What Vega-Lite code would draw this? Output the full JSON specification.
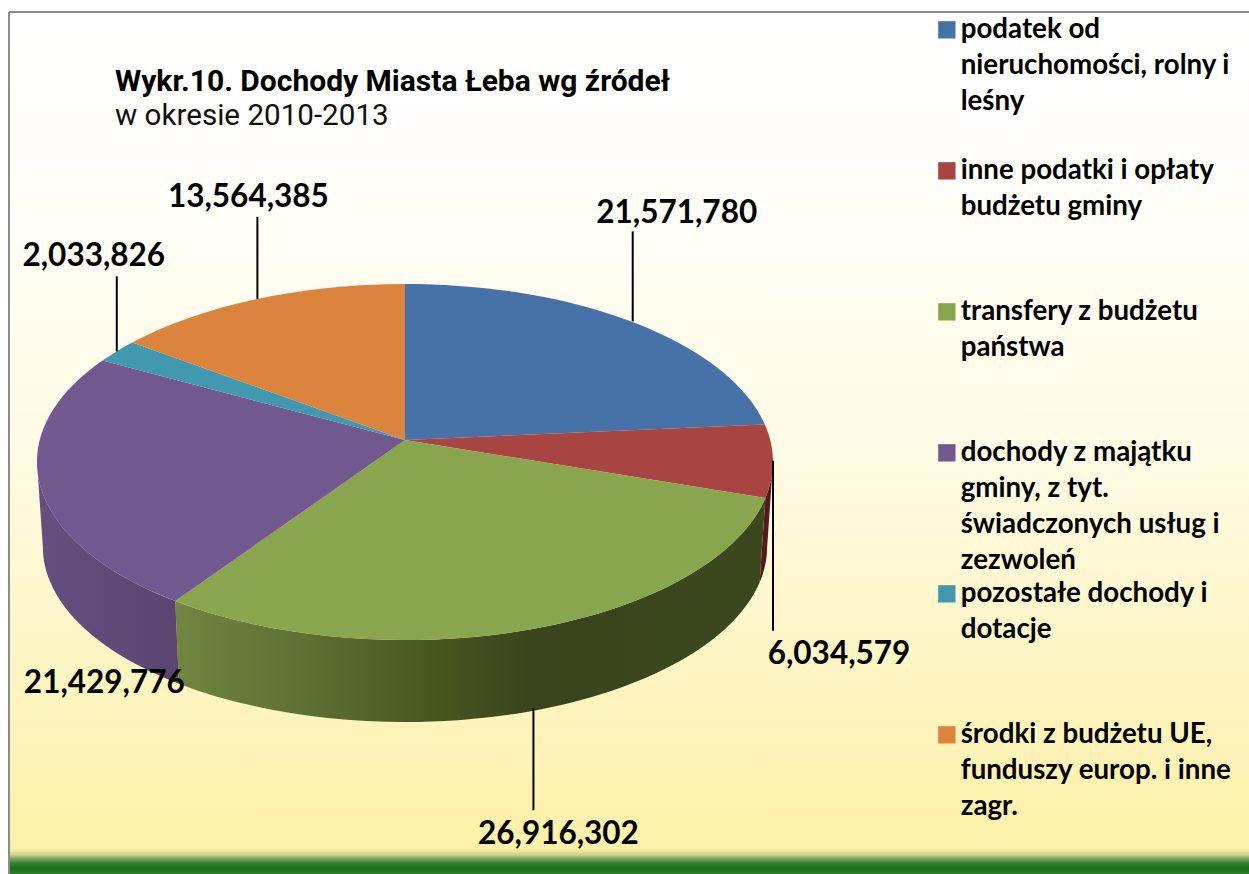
{
"$schema":"https://vega.github.io/schema/vega-lite/v6.json",
"width":1240,"height":862,
"autosize":"none",
"padding":{"left":9,"top":12,"right":0,"bottom":0},
"background":"#ffffff",
"title":{"text":"Wykr.10. Dochody Miasta Łeba wg źródeł","subtitle":"w okresie 2010-2013","anchor":"start","frame":"group","dx":106,"offset":-120,"font":"Roboto","fontSize":30,"fontWeight":"bold","color":"#000000","subtitleFont":"Roboto","subtitleFontSize":29.6,"subtitleColor":"#111111","subtitlePadding":5},
"config":{"view":{"stroke":null},"font":"Lato"},
"data":{"values":[
{"order":1,"source":"podatek od nieruchomości, rolny i leśny","value":21571780},
{"order":2,"source":"inne podatki i opłaty budżetu gminy","value":6034579},
{"order":3,"source":"transfery z budżetu państwa","value":26916302},
{"order":4,"source":"dochody z majątku gminy, z tyt. świadczonych usług i zezwoleń","value":21429776},
{"order":5,"source":"pozostałe dochody i dotacje","value":2033826},
{"order":6,"source":"środki z budżetu UE, funduszy europ. i inne zagr.","value":13564385}
]},
"transform":[
{"stack":"value","groupby":[],"sort":[{"field":"order","order":"ascending"}],"offset":"normalize","as":["f0","f1"]},
{"calculate":"2*PI*datum.f0","as":"t0"},
{"calculate":"2*PI*datum.f1","as":"t1"},
{"calculate":"(datum.t0+datum.t1)/2","as":"tm"},
{"calculate":"365.2*sin(datum.t0)/(1+0.1236*cos(datum.t0))","as":"x0"},
{"calculate":"-175.3*cos(datum.t0)/(1+0.1236*cos(datum.t0))","as":"y0"},
{"calculate":"365.2*sin(datum.t1)/(1+0.1236*cos(datum.t1))","as":"x1"},
{"calculate":"-175.3*cos(datum.t1)/(1+0.1236*cos(datum.t1))","as":"y1"},
{"calculate":"365.2*sin(datum.tm)/(1+0.1236*cos(datum.tm))","as":"xm"},
{"calculate":"-175.3*cos(datum.tm)/(1+0.1236*cos(datum.tm))","as":"ym"},
{"calculate":"max(datum.t0,1.695)","as":"s0"},
{"calculate":"min(datum.t1,4.588)","as":"s1"},
{"calculate":"365.2*sin(datum.s0)/(1+0.1236*cos(datum.s0))","as":"sx0"},
{"calculate":"-175.3*cos(datum.s0)/(1+0.1236*cos(datum.s0))","as":"sy0"},
{"calculate":"365.2*sin(datum.s1)/(1+0.1236*cos(datum.s1))","as":"sx1"},
{"calculate":"-175.3*cos(datum.s1)/(1+0.1236*cos(datum.s1))","as":"sy1"},
{"calculate":"'M-224 -3L'+(datum.x0-224)+' '+(datum.y0-3)+'A368 178 0 0 1 '+(datum.x1-224)+' '+(datum.y1-3)+'Z'","as":"wedge"},
{"calculate":"'M'+(datum.sx0-224)+' '+(datum.sy0-3)+'A368 178 0 0 1 '+(datum.sx1-224)+' '+(datum.sy1-3)+'L'+(datum.sx1*0.984-224)+' '+((datum.sy1-22)*0.983+104)+'A362 175 0 0 0 '+(datum.sx0*0.984-224)+' '+((datum.sy0-22)*0.983+104)+'Z'","as":"side"},
{"calculate":"396+datum.xm+[2,0,-3,0,0,0][datum.order-1]","as":"lx"},
{"calculate":"428+datum.ym+[0,0,80,0,0,0][datum.order-1]","as":"ly0"},
{"calculate":"428+datum.ym+[-90,170,182,0,-75,-82][datum.order-1]","as":"ly1"},
{"calculate":"datum.lx+[44,66,25,65,-23,-9][datum.order-1]","as":"tx"},
{"calculate":"datum.ly1+[-17,24,25,202,-19,-19][datum.order-1]","as":"ty"}
],
"layer":[
{"mark":{"type":"rect","fill":{"gradient":"linear","x1":0,"y1":0,"x2":0,"y2":1,"stops":[
{"offset":0,"color":"#ffffff"},{"offset":0.15,"color":"#fffefb"},{"offset":0.5,"color":"#fffbe6"},{"offset":0.97,"color":"#fdf0a8"},{"offset":0.9733,"color":"#efe79f"},{"offset":0.978,"color":"#c9d28a"},{"offset":0.982,"color":"#7fa763"},{"offset":0.987,"color":"#3a8330"},{"offset":0.993,"color":"#1a6e1a"},{"offset":1,"color":"#2e7d2a"}]}}},
{"mark":{"type":"rule","stroke":"#8c8c8c","strokeWidth":2},"encoding":{"x":{"value":0}}},
{"mark":{"type":"rule","stroke":"#8c8c8c","strokeWidth":1.5},"encoding":{"y":{"value":0}}},
{"transform":[{"filter":"datum.order==2"}],"mark":{"type":"point","filled":true,"opacity":1,"strokeWidth":0,"fill":"#55181c"},"encoding":{"shape":{"field":"side","type":"nominal","scale":null,"legend":null},"size":{"value":4}}},
{"transform":[{"filter":"datum.order==3"}],"mark":{"type":"point","filled":true,"opacity":1,"strokeWidth":0,"fill":{"gradient":"linear","x1":0,"y1":0,"x2":1,"y2":0,"stops":[{"offset":0,"color":"#70863f"},{"offset":0.22,"color":"#5e7034"},{"offset":0.45,"color":"#47551f"},{"offset":0.6,"color":"#3a441c"},{"offset":1,"color":"#3b481d"}]}},"encoding":{"shape":{"field":"side","type":"nominal","scale":null,"legend":null},"size":{"value":4}}},
{"transform":[{"filter":"datum.order==4"}],"mark":{"type":"point","filled":true,"opacity":1,"strokeWidth":0,"fill":{"gradient":"linear","x1":0,"y1":0,"x2":1,"y2":0,"stops":[{"offset":0,"color":"#654f80"},{"offset":1,"color":"#5a4470"}]}},"encoding":{"shape":{"field":"side","type":"nominal","scale":null,"legend":null},"size":{"value":4}}},
{"mark":{"type":"point","filled":true,"opacity":1,"strokeWidth":0},"encoding":{
"shape":{"field":"wedge","type":"nominal","scale":null,"legend":null},
"size":{"value":4},
"color":{"field":"source","type":"nominal","scale":{"domain":["podatek od nieruchomości, rolny i leśny","inne podatki i opłaty budżetu gminy","transfery z budżetu państwa","dochody z majątku gminy, z tyt. świadczonych usług i zezwoleń","pozostałe dochody i dotacje","środki z budżetu UE, funduszy europ. i inne zagr."],"range":["#4672a8","#a84442","#89a54e","#71588f","#4198af","#db843d"]},
"legend":{"title":null,"orient":"none","legendX":924,"legendY":4,"symbolType":"square","symbolSize":300,"symbolStrokeWidth":0,"labelFont":"Lato","labelFontSize":27.7,"labelFontWeight":"bold","labelColor":"#000000","labelLimit":400,"labelOffset":0,"gridAlign":"all","rowPadding":4,"columns":1,"labelBaseline":"middle",
"labelExpr":"{'podatek od nieruchomości, rolny i leśny':['podatek od','nieruchomości, rolny i','leśny'],'inne podatki i opłaty budżetu gminy':['inne podatki i opłaty','budżetu gminy'],'transfery z budżetu państwa':['transfery z budżetu','państwa'],'dochody z majątku gminy, z tyt. świadczonych usług i zezwoleń':['dochody z majątku','gminy, z tyt.','świadczonych usług i','zezwoleń'],'pozostałe dochody i dotacje':['pozostałe dochody i','dotacje'],'środki z budżetu UE, funduszy europ. i inne zagr.':['środki z budżetu UE,','funduszy europ. i inne','zagr.']}[datum.label]",
"encoding":{"labels":{"lineHeight":{"value":36}}}}}
}},
{"mark":{"type":"rule","stroke":"#000000","strokeWidth":2},"encoding":{"x":{"field":"lx","type":"quantitative","scale":null},"y":{"field":"ly0","type":"quantitative","scale":null},"y2":{"field":"ly1"}}},
{"mark":{"type":"text","font":"Lato","fontWeight":"bold","fontSize":31.5,"color":"#000000","align":"center","baseline":"middle"},"encoding":{"x":{"field":"tx","type":"quantitative","scale":null},"y":{"field":"ty","type":"quantitative","scale":null},"text":{"field":"value","type":"quantitative","format":",.0f"}}}
]
}
